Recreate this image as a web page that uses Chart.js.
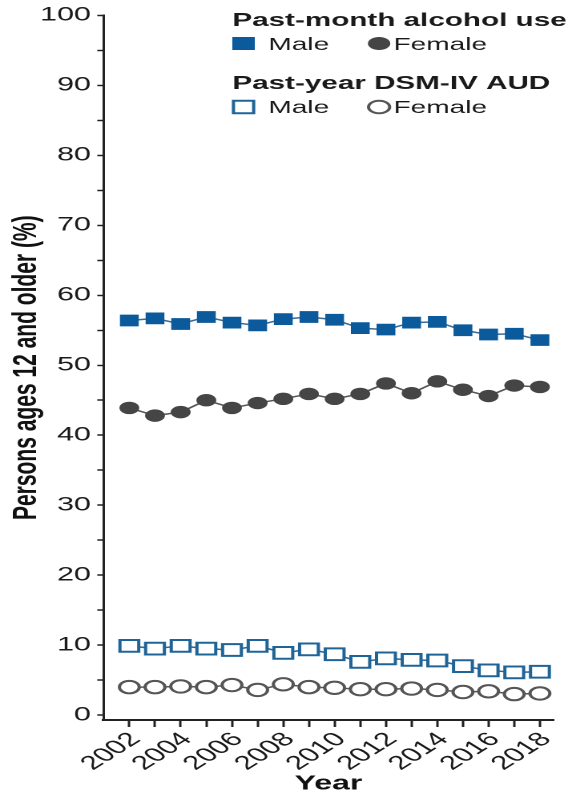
<!DOCTYPE html>
<html lang="en">

<head>
    <meta charset="UTF-8">
    <title>Alcohol use and AUD by sex, 2002-2018</title>
    <script src="https://cdn.jsdelivr.net/npm/chart.js@4.4.1/dist/chart.umd.min.js"></script>
    <style>
        html, body { margin: 0; padding: 0; background: #fff; overflow: hidden; }
        #wrap { position: absolute; left: 0; top: 0; height: 794px; transform-origin: 0 0; }
    </style>
</head>

<body>
    <div id="wrap"><canvas id="chart"></canvas></div>
    <script>
        const years = [2002, 2003, 2004, 2005, 2006, 2007, 2008, 2009, 2010, 2011, 2012, 2013, 2014, 2015, 2016, 2017, 2018];
        // past-month alcohol use (%)
        const monthMale = [56.4, 56.7, 55.9, 56.9, 56.1, 55.7, 56.6, 56.9, 56.5, 55.3, 55.1, 56.1, 56.2, 55.0, 54.4, 54.5, 53.6];
        const monthFemale = [43.9, 42.8, 43.3, 45.0, 43.9, 44.6, 45.2, 45.9, 45.2, 45.9, 47.4, 46.0, 47.7, 46.5, 45.6, 47.1, 46.9];
        // past-year DSM-IV AUD (%)
        const audMale = [9.9, 9.5, 9.9, 9.5, 9.3, 9.9, 8.9, 9.4, 8.7, 7.6, 8.1, 7.9, 7.8, 7.0, 6.4, 6.1, 6.2];
        const audFemale = [4.0, 4.0, 4.1, 4.0, 4.3, 3.6, 4.4, 4.0, 3.9, 3.7, 3.7, 3.8, 3.6, 3.3, 3.4, 3.0, 3.1];

        const yTickValues = [0, 5, 10, 15, 20, 25, 30, 35, 40, 45, 50, 55, 60, 65, 70, 75, 80, 85, 90, 95, 100];
        const yLabelValues = [0, 10, 20, 30, 40, 50, 60, 70, 80, 90, 100];
        const xLabelYears = [2002, 2004, 2006, 2008, 2010, 2012, 2014, 2016, 2018];

        // the whole figure is drawn narrow and widened by this factor
        const SX = 1.6;
        const W = 569 / SX;
        const wrap = document.getElementById('wrap');
        wrap.style.width = W + 'px';
        wrap.style.transform = 'scaleX(' + SX + ')';

        const BLUE = '#0b5a9b';
        const GREY = '#454545';
        const FONT = '"Liberation Sans", Arial, Helvetica, sans-serif';

        const pts = arr => years.map((yr, i) => ({ x: yr, y: arr[i] }));

        function marker(ctx, style, x, y, rx, ry, fill, stroke, lw) {
            ctx.beginPath();
            if (style === 'rect') ctx.rect(x - rx, y - ry, rx * 2, ry * 2);
            else ctx.ellipse(x, y, rx, ry, 0, 0, Math.PI * 2);
            ctx.fillStyle = fill;
            ctx.fill();
            if (lw) { ctx.lineWidth = lw; ctx.strokeStyle = stroke; ctx.stroke(); }
        }

        // two-group legend in the top right corner
        const groupLegend = {
            id: 'groupLegend',
            afterDraw(chart) {
                const ctx = chart.ctx;
                const ds = chart.data.datasets;
                const x0 = 145, xt = 167.5, xc = 236.6, xf = 245.6;
                ctx.save();
                ctx.textBaseline = 'alphabetic';
                ctx.fillStyle = '#1a1a1a';
                ctx.font = 'bold 18.5px ' + FONT;
                ctx.fillText('Past-month alcohol use', x0, 26);
                ctx.fillText('Past-year DSM-IV AUD', x0, 89);
                ctx.font = '17.5px ' + FONT;
                ctx.fillText('Male', xt, 50);
                ctx.fillText('Female', xf, 50);
                ctx.fillText('Male', xt, 113);
                ctx.fillText('Female', xf, 113);
                marker(ctx, 'rect', x0 + 7, 43.5, 7, 6.5, ds[0].pointBackgroundColor, null, 0);
                marker(ctx, 'circle', xc, 43.5, 7, 6.5, ds[1].pointBackgroundColor, null, 0);
                marker(ctx, 'rect', x0 + 7, 107, 6.3, 6.3, '#fff', ds[2].pointBorderColor, 2);
                marker(ctx, 'circle', xc, 107, 6.6, 6.3, '#fff', ds[3].pointBorderColor, 2);
                ctx.restore();
            }
        };

        const ctx = document.getElementById('chart').getContext('2d');
        const myChart = new Chart(ctx, {
            type: 'line',
            data: {
                datasets: [{
                    label: 'Past-month alcohol use, Male',
                    data: pts(monthMale),
                    borderColor: '#3d6a92',
                    borderWidth: 1.5,
                    pointStyle: 'rect',
                    pointRadius: 8.3,
                    pointBackgroundColor: BLUE,
                    pointBorderColor: BLUE,
                    pointBorderWidth: 0
                }, {
                    label: 'Past-month alcohol use, Female',
                    data: pts(monthFemale),
                    borderColor: '#555',
                    borderWidth: 1.5,
                    pointStyle: 'circle',
                    pointRadius: 6.2,
                    pointBackgroundColor: GREY,
                    pointBorderColor: GREY,
                    pointBorderWidth: 0
                }, {
                    label: 'Past-year DSM-IV AUD, Male',
                    data: pts(audMale),
                    borderColor: '#2b6796',
                    borderWidth: 1.5,
                    pointStyle: 'rect',
                    pointRadius: 8.3,
                    pointBackgroundColor: '#fff',
                    pointBorderColor: '#1f6497',
                    pointBorderWidth: 2
                }, {
                    label: 'Past-year DSM-IV AUD, Female',
                    data: pts(audFemale),
                    borderColor: '#555',
                    borderWidth: 1.5,
                    pointStyle: 'circle',
                    pointRadius: 6.2,
                    pointBackgroundColor: '#fff',
                    pointBorderColor: '#555',
                    pointBorderWidth: 2
                }]
            },
            options: {
                responsive: true,
                maintainAspectRatio: false,
                animation: false,
                devicePixelRatio: 2,
                layout: { padding: { top: 15, right: 0, bottom: 0, left: 0 } },
                plugins: { legend: { display: false }, tooltip: { enabled: false } },
                scales: {
                    x: {
                        type: 'linear',
                        min: 2001,
                        max: 2018.52,
                        afterBuildTicks: s => { s.ticks = years.map(v => ({ value: v })); },
                        afterFit: s => { s.height = 74; },
                        grid: { drawOnChartArea: false, tickLength: 7, tickWidth: 1.5, tickColor: '#222' },
                        border: { color: '#222', width: 2 },
                        ticks: {
                            autoSkip: false,
                            maxRotation: 45,
                            minRotation: 45,
                            padding: 1,
                            labelOffset: 4,
                            color: '#1a1a1a',
                            font: { family: FONT, size: 19.5 },
                            callback: v => xLabelYears.includes(v) ? String(v) : ''
                        },
                        title: {
                            display: true,
                            text: 'Year',
                            color: '#111',
                            padding: 0,
                            font: { family: FONT, size: 20, weight: 'bold', lineHeight: 1 }
                        }
                    },
                    y: {
                        min: -0.7,
                        max: 100,
                        afterBuildTicks: s => { s.ticks = yTickValues.map(v => ({ value: v })); },
                        afterFit: s => { s.width = 64.7; },
                        grid: { drawOnChartArea: false, tickLength: 4, tickWidth: 1.5, tickColor: '#222' },
                        border: { color: '#222', width: 1.5 },
                        ticks: {
                            padding: 4,
                            color: '#1a1a1a',
                            font: { family: FONT, size: 19 },
                            callback: v => yLabelValues.includes(v) ? String(v) : ''
                        },
                        title: {
                            display: true,
                            text: 'Persons ages 12 and older (%)',
                            color: '#111',
                            padding: { top: 4, bottom: 4 },
                            font: { family: FONT, size: 21, weight: 'bold' }
                        }
                    }
                }
            },
            plugins: [groupLegend]
        });
    </script>
</body>

</html>
